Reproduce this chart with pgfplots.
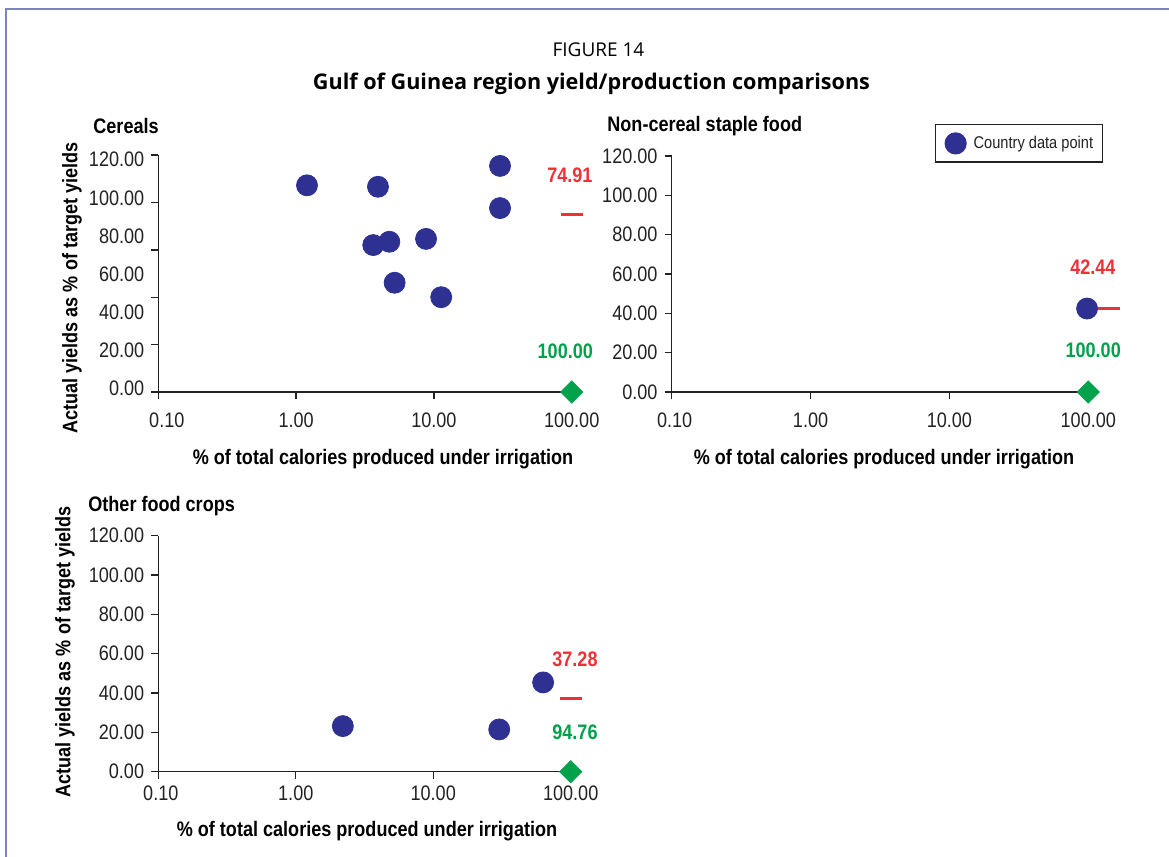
\documentclass[border=0pt]{standalone}
\usepackage{fontspec}
\usepackage{pgfplots}
\pgfplotsset{compat=1.18}
\setmainfont{Liberation Sans}
\newfontfamily\narrow[FakeStretch=0.86]{Liberation Sans}
\newfontfamily\titlefont{Open Sans}
\definecolor{navy}{HTML}{2E3192}
\definecolor{redc}{HTML}{EE3138}
\definecolor{greenc}{HTML}{00A14B}
\definecolor{axisc}{HTML}{222222}
\definecolor{framec}{HTML}{7B86B5}
\newcommand\ticklab{\narrow\fontsize{10.5}{12}\selectfont\color{axisc}}
\newcommand\lab{\narrow\bfseries\fontsize{10.5}{12}\selectfont}
\pgfplotsset{
  every axis/.append style={
    scale only axis, xmode=log, xmin=0.1, xmax=100, ymin=0,
    axis x line=bottom, axis y line=left,
    axis line style={-, line width=0.7pt, color=axisc},
    tick align=outside, major tick length=3.6pt,
    tick style={line width=0.7pt, color=axisc},
    xtick={0.1,1,10,100}, xminorticks=false, yminorticks=false,
    tick label style={font=\ticklab},
    clip=false,
  },
}
\tikzset{vlab/.style={font=\lab, anchor=center}}
\begin{document}
\begin{tikzpicture}
\path[use as bounding box] (0,0) rectangle (584.5pt,-428.5pt);
% frame
\draw[framec, line width=1pt] (2.75pt,-428.5pt) -- (2.75pt,-4.25pt) -- (584.5pt,-4.25pt);
% titles
\node[font=\titlefont\fontsize{9.5}{11}\selectfont] at (299.25pt,-25pt) {FIGURE 14};
\node[font=\titlefont\bfseries\fontsize{10.8}{12}\selectfont] at (295.75pt,-42pt) {Gulf of Guinea region yield/production comparisons};

% ---------- Panel 1: Cereals
\begin{axis}[at={(79.15pt,-196pt)}, anchor=south west,
  width=206.7pt, height=118.5pt, ymax=100,
  ytick={0,20,40,60,80,100}, yticklabels={,,,,,},
  extra y ticks={1.6,17.7,33.7,49.8,65.9,81.9,98.0},
  extra y tick labels={0.00,20.00,40.00,60.00,80.00,100.00,120.00},
  extra y tick style={major tick length=0pt},
  yticklabel style={xshift=-3.5pt},
  xticklabel style={yshift=-3.5pt},
  xticklabels={\hspace{8.5pt}0.10,1.00,10.00,100.00}]
\addplot[only marks, mark=-, mark size=5.5pt, mark options={line width=1.5pt}, color=redc] coordinates {(100,74.91)};
\addplot[only marks, mark=*, mark size=5.25pt, color=navy] coordinates {(1.20,87.2) (3.93,86.6) (30.2,95.4) (30.2,77.6) (3.63,62.0) (4.75,63.4) (8.77,64.6) (5.19,46.1) (11.3,40.0)};
\addplot[only marks, mark=square*, mark size=3.9pt, mark options={rotate=45}, color=greenc] coordinates {(100,0)};
\node[vlab, text=redc] at (axis cs:97,91.5) {74.91};
\node[vlab, text=greenc] at (axis cs:89.9,17.2) {100.00};
\end{axis}

% ---------- Panel 2: Non-cereal staple food
\begin{axis}[at={(335.85pt,-196pt)}, anchor=south west,
  width=208.3pt, height=118pt, ymax=120,
  ytick={0,20,40,60,80,100,120},
  yticklabels={0.00,20.00,40.00,60.00,80.00,100.00,120.00},
  xticklabel style={yshift=-3.5pt},
  xticklabels={\hspace{3pt}0.10,1.00,10.00,100.00},
  legend style={at={(1.0346,1.135)}, anchor=north east, draw=axisc, line width=0.6pt,
    font=\narrow\fontsize{8.5}{10}\selectfont\color{axisc}, inner xsep=2.5pt, inner ysep=3.5pt},
  legend image code/.code={\path[draw=none, fill=none] (2pt,-5.5pt) rectangle (16.5pt,5.5pt);
    \draw[#1] plot coordinates {(9.5pt,0pt)};},
  legend cell align=left]
\addplot[only marks, mark=-, mark size=5.5pt, mark options={line width=1.5pt}, color=redc, forget plot] coordinates {(140,42.44)};
\addplot[only marks, mark=*, mark size=5.25pt, color=navy] coordinates {(98,42.44)};
\addlegendentry{Country data point}
\addplot[only marks, mark=square*, mark size=3.9pt, mark options={rotate=45}, color=greenc, forget plot] coordinates {(100,0)};
\node[vlab, text=redc] at (axis cs:108,63.6) {42.44};
\node[vlab, text=greenc] at (axis cs:108.5,21.0) {100.00};
\end{axis}

% ---------- Panel 3: Other food crops
\begin{axis}[at={(79.15pt,-385.85pt)}, anchor=south west,
  width=206.2pt, height=118pt, ymax=120,
  ytick={0,20,40,60,80,100,120},
  yticklabels={0.00,20.00,40.00,60.00,80.00,100.00,120.00},
  xticklabels={\hspace{2.5pt}0.10,1.00,10.00,100.00}]
\addplot[only marks, mark=-, mark size=5.5pt, mark options={line width=1.5pt}, color=redc] coordinates {(100,37.28)};
\addplot[only marks, mark=*, mark size=5.25pt, color=navy] coordinates {(2.20,23.2) (30.2,21.5) (63.0,45.4)};
\addplot[only marks, mark=square*, mark size=3.9pt, mark options={rotate=45}, color=greenc] coordinates {(100,0)};
\node[vlab, text=redc] at (axis cs:107.4,57.3) {37.28};
\node[vlab, text=greenc] at (axis cs:107.4,20.3) {94.76};
\end{axis}

% panel titles
\node[font=\lab, anchor=west, inner sep=0pt] at (46.5pt,-63pt) {Cereals};
\node[font=\lab, anchor=west, inner sep=0pt] at (303.5pt,-63pt) {Non-cereal staple food};
\node[font=\lab, anchor=west, inner sep=0pt] at (44pt,-253pt) {Other food crops};
% axis labels
\node[font=\lab, rotate=90] at (36pt,-144pt) {Actual yields as \% of target yields};
\node[font=\lab, rotate=90] at (32.5pt,-326pt) {Actual yields as \% of target yields};
\node[font=\lab] at (191.5pt,-229.5pt) {\% of total calories produced under irrigation};
\node[font=\lab] at (442pt,-229.5pt) {\% of total calories produced under irrigation};
\node[font=\lab] at (183.5pt,-415.5pt) {\% of total calories produced under irrigation};
\end{tikzpicture}
\end{document}
